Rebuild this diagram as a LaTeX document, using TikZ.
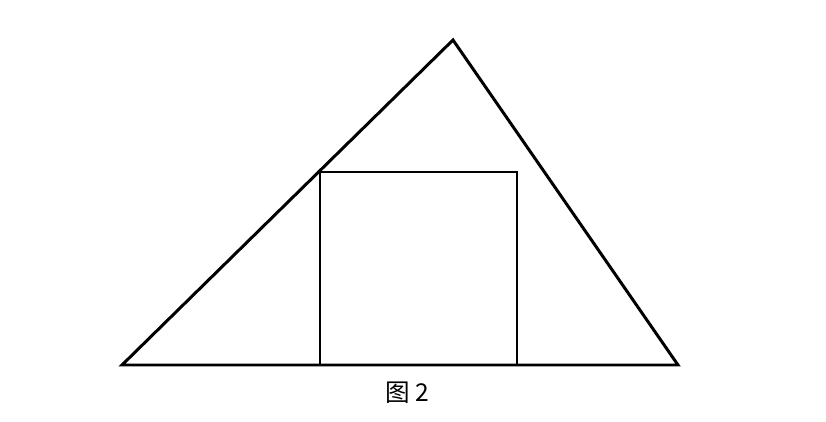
\documentclass[tikz,border=0pt]{standalone}
\usepackage{fontspec}
\newfontfamily\cjk{Noto Sans CJK SC}
\begin{document}
\begin{tikzpicture}[x=0.02cm,y=-0.02cm,
    edge/.style={line width=1.7pt,line join=miter}]
    \useasboundingbox (0,0) rectangle (826,422);
    \coordinate (A) at (122,365);
    \coordinate (B) at (678,365);
    \coordinate (C) at (453,40);
    \coordinate (P) at (320,365);
    \coordinate (Q) at (517,365);
    \coordinate (R) at (517,172);
    \coordinate (S) at (320,172);
    \draw[edge] (A) -- (B) -- (C) -- cycle;
    \draw[edge] (P) -- (S) -- (R) -- (Q);
    \node[font=\cjk\fontsize{14pt}{16pt}\selectfont] (cap) at (407,393) {图 2};
\end{tikzpicture}
\end{document}
